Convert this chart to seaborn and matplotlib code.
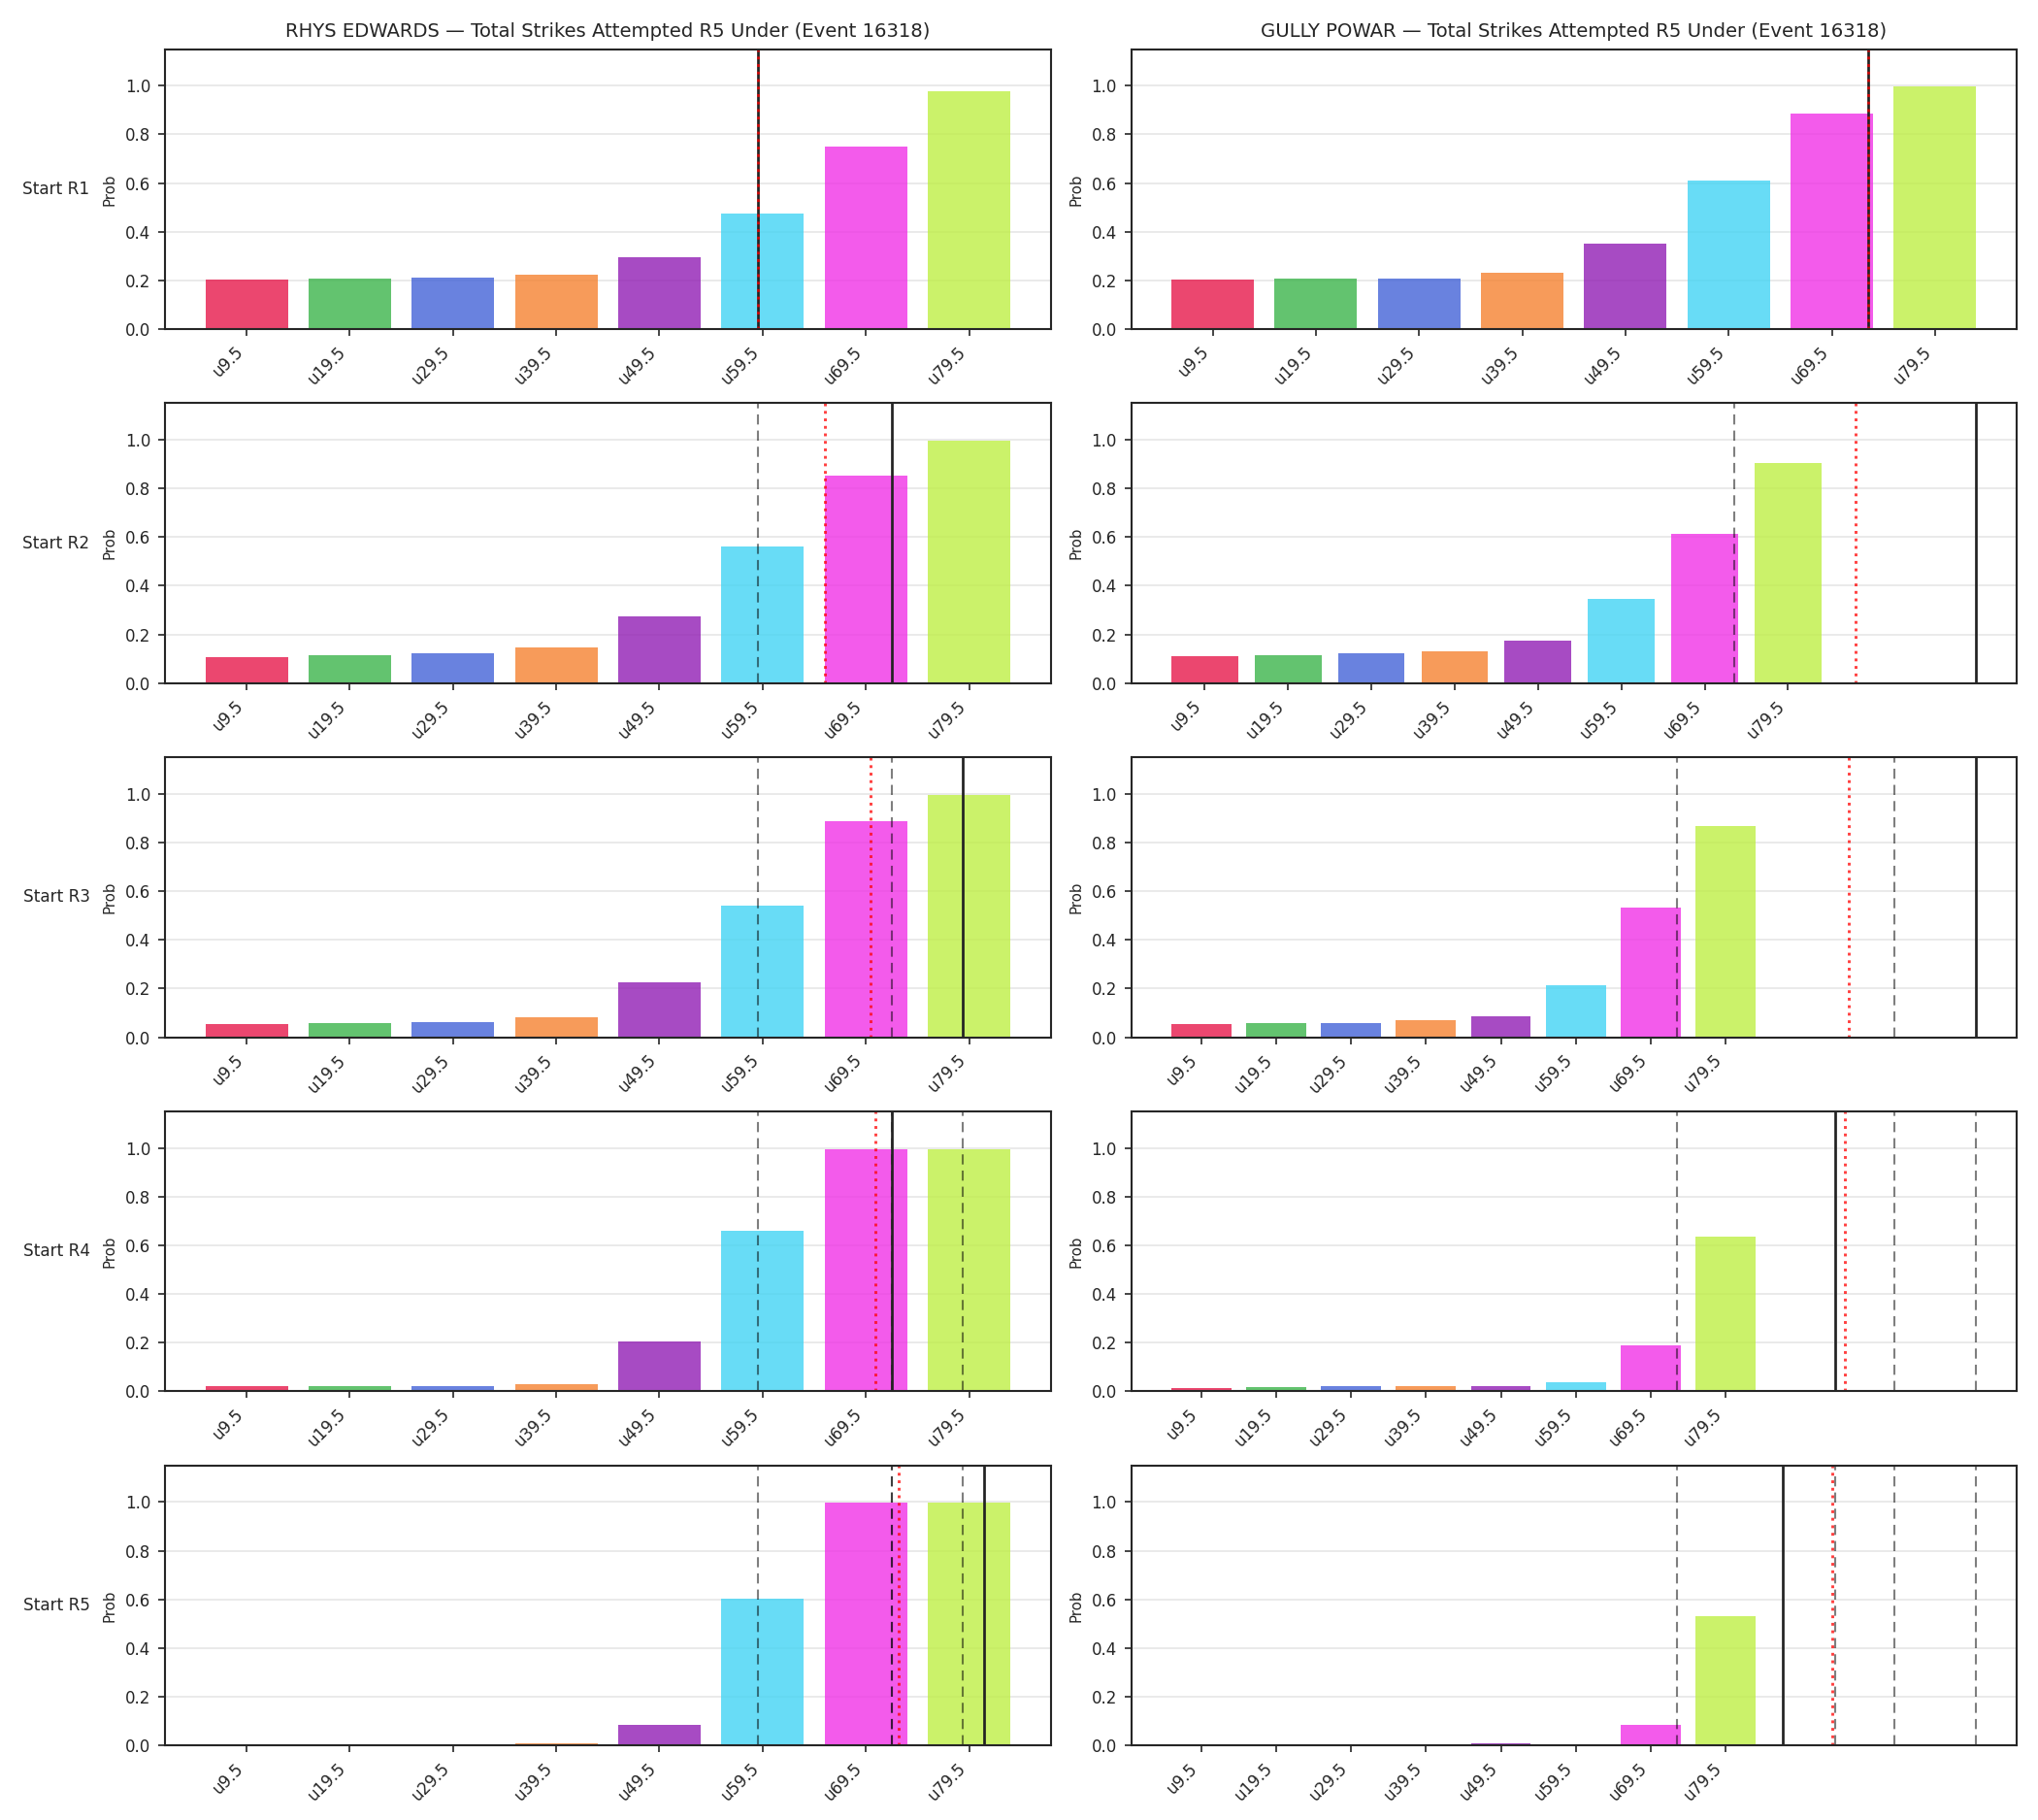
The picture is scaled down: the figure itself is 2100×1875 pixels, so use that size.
import matplotlib
matplotlib.use("Agg")
import matplotlib.pyplot as plt
import seaborn as sns
import pandas as pd

# ---------------- data ----------------
lines_labels = ["u9.5", "u19.5", "u29.5", "u39.5", "u49.5", "u59.5", "u69.5", "u79.5"]
rounds = ["Start R1", "Start R2", "Start R3", "Start R4", "Start R5"]
players = ["RHYS EDWARDS", "GULLY POWAR"]
market = "Total Strikes Attempted R5 Under (Event 16318)"

edwards_r1 = [0.203, 0.207, 0.211, 0.223, 0.295, 0.476, 0.749, 0.977]
edwards_r2 = [0.107, 0.115, 0.123, 0.147, 0.275, 0.560, 0.853, 0.997]
edwards_r3 = [0.055, 0.058, 0.062, 0.082, 0.224, 0.540, 0.889, 0.997]
edwards_r4 = [0.020, 0.023, 0.023, 0.031, 0.204, 0.660, 0.996, 0.996]
edwards_r5 = [0.000, 0.000, 0.004, 0.007, 0.083, 0.603, 0.996, 0.996]

powar_r1 = [0.205, 0.207, 0.207, 0.231, 0.349, 0.612, 0.885, 0.997]
powar_r2 = [0.111, 0.116, 0.123, 0.131, 0.175, 0.347, 0.615, 0.904]
powar_r3 = [0.055, 0.057, 0.057, 0.070, 0.087, 0.214, 0.531, 0.869]
powar_r4 = [0.015, 0.019, 0.023, 0.023, 0.023, 0.039, 0.187, 0.636]
powar_r5 = [0.000, 0.000, 0.000, 0.002, 0.007, 0.006, 0.083, 0.531]

# projected position (in line-index units) at each round start: black solid
edwards_proj = [4.95, 6.25, 6.94, 6.25, 7.15]
powar_proj = [6.35, 9.26, 10.35, 8.46, 7.76]
# reference marker: red dotted
edwards_ref = [4.95, 5.60, 6.05, 6.09, 6.32]
powar_ref = [6.35, 7.81, 8.65, 8.59, 8.43]

bar_colors = ["#e6194b", "#3cb44b", "#4363d8", "#f58231",
              "#911eb4", "#42d4f4", "#f032e6", "#bfef45"]

probs = {
    players[0]: [edwards_r1, edwards_r2, edwards_r3, edwards_r4, edwards_r5],
    players[1]: [powar_r1, powar_r2, powar_r3, powar_r4, powar_r5],
}
proj = {players[0]: edwards_proj, players[1]: powar_proj}
ref = {players[0]: edwards_ref, players[1]: powar_ref}

# ---------------- plot ----------------
sns.set_style("ticks")
plt.rcParams["font.family"] = ["DejaVu Sans"]

fig, axes = plt.subplots(5, 2, figsize=(14, 12.5), dpi=150)
fig.subplots_adjust(left=0.081, right=0.9895, top=0.973, bottom=0.041,
                    wspace=0.091, hspace=0.265)

palette = dict(zip(lines_labels, bar_colors))

for c, player in enumerate(players):
    for r in range(len(rounds)):
        ax = axes[r, c]
        df = pd.DataFrame({"line": lines_labels, "prob": probs[player][r]})
        sns.barplot(data=df, x="line", y="prob", hue="line", palette=palette,
                    order=lines_labels, hue_order=lines_labels,
                    saturation=1, alpha=0.8, width=0.8, legend=False,
                    linewidth=0, ax=ax)
        # history of previous projections
        for prev in proj[player][:r]:
            ax.axvline(prev, color="black", alpha=0.5, linestyle="--",
                       linewidth=1.0, dashes=(5, 3))
        ax.axvline(proj[player][r], color="#222222", linestyle="-",
                   linewidth=1.3)
        ax.axvline(ref[player][r], color="red", alpha=0.75, linestyle=":",
                   linewidth=1.4)

        ax.set_autoscalex_on(True)
        ax.relim()
        ax.autoscale_view(scalex=True, scaley=False)
        ax.set_ylim(0, 1.15)
        ax.set_yticks([0.0, 0.2, 0.4, 0.6, 0.8, 1.0])
        ax.yaxis.grid(True, color="#e6e6e6", linewidth=0.8)
        ax.xaxis.grid(False)
        ax.set_axisbelow(True)
        ax.set_xlabel("")
        ax.set_ylabel("Prob", fontsize=7.2)
        ax.tick_params(axis="y", labelsize=8)
        ax.tick_params(axis="x", labelsize=8)
        for lab in ax.get_xticklabels():
            lab.set_rotation(45)
            lab.set_ha("right")
        for sp in ax.spines.values():
            sp.set_visible(True)
            sp.set_color("#262626")
            sp.set_linewidth(1.0)
        if r == 0:
            ax.set_title(f"{player} \u2014 {market}", fontsize=9.4)
        if c == 0:
            ax.text(-0.085, 0.5, rounds[r], transform=ax.transAxes,
                    ha="right", va="center", fontsize=8.1)

fig.savefig("out.png", dpi=150)
